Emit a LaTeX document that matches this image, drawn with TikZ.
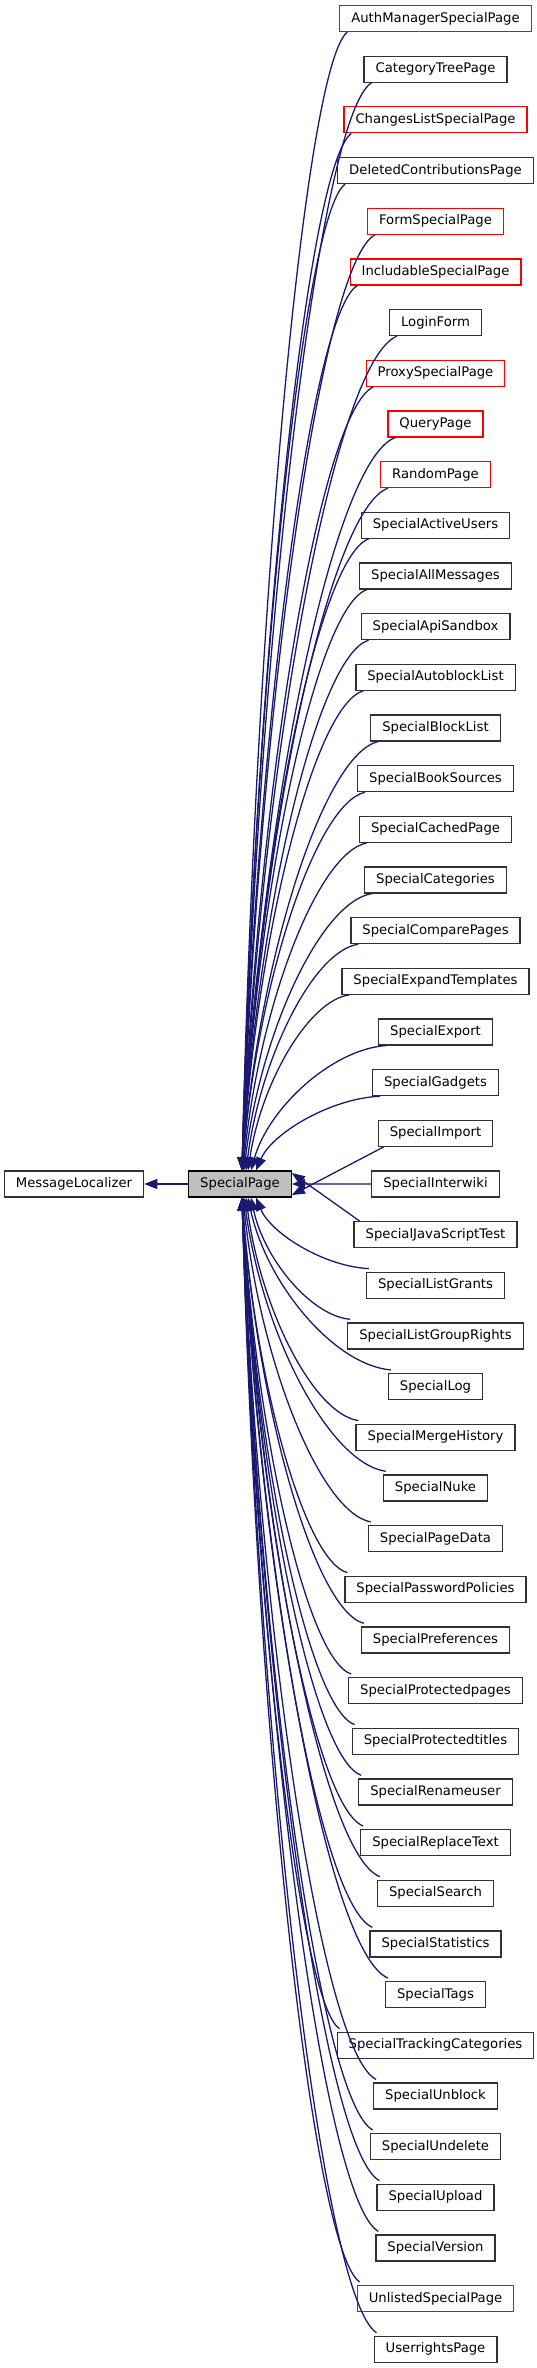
\documentclass[tikz,border=0pt]{standalone}
\usepackage{fontspec}
\setmainfont{DejaVu Sans}
\usetikzlibrary{arrows.meta,calc}
\definecolor{edgeblue}{RGB}{25,25,112}
\definecolor{boxgray}{RGB}{191,191,191}
\definecolor{bordergray}{RGB}{50,50,50}
\definecolor{linkred}{RGB}{255,0,0}
\begin{document}
\begin{tikzpicture}[x=1pt,y=-1pt,
  cls/.style={draw=bordergray, line width=1.3pt, inner xsep=11.5pt, inner ysep=0pt,
    minimum height=26pt, font=\fontsize{13.2}{15}\selectfont, text=black},
  redcls/.style={cls, draw=linkred},
  edge/.style={draw=edgeblue, line width=1.3pt, -{Triangle[length=13pt,width=10pt]}}]
\useasboundingbox (0,0) rectangle (537,2368);
\node[cls, fill=boxgray, draw=black] (sp) at (240,1184) {SpecialPage};
\node[cls] (ml) at (74,1184) {MessageLocalizer};
\draw[edge] (sp) -- (ml);
\foreach \i/\nm/\st in {
 0/AuthManagerSpecialPage/redcls, 1/CategoryTreePage/cls, 2/ChangesListSpecialPage/redcls,
 3/DeletedContributionsPage/cls, 4/FormSpecialPage/redcls, 5/IncludableSpecialPage/redcls,
 6/LoginForm/cls, 7/ProxySpecialPage/redcls, 8/QueryPage/redcls, 9/RandomPage/redcls,
 10/SpecialActiveUsers/cls, 11/SpecialAllMessages/cls, 12/SpecialApiSandbox/cls,
 13/SpecialAutoblockList/cls, 14/SpecialBlockList/cls, 15/SpecialBookSources/cls,
 16/SpecialCachedPage/cls, 17/SpecialCategories/cls, 18/SpecialComparePages/cls,
 19/SpecialExpandTemplates/cls, 20/SpecialExport/cls, 21/SpecialGadgets/cls,
 22/SpecialImport/cls, 23/SpecialInterwiki/cls, 24/SpecialJavaScriptTest/cls,
 25/SpecialListGrants/cls, 26/SpecialListGroupRights/cls, 27/SpecialLog/cls,
 28/SpecialMergeHistory/cls, 29/SpecialNuke/cls, 30/SpecialPageData/cls,
 31/SpecialPasswordPolicies/cls, 32/SpecialPreferences/cls, 33/SpecialProtectedpages/cls,
 34/SpecialProtectedtitles/cls, 35/SpecialRenameuser/cls, 36/SpecialReplaceText/cls,
 37/SpecialSearch/cls, 38/SpecialStatistics/cls, 39/SpecialTags/cls,
 40/SpecialTrackingCategories/cls, 41/SpecialUnblock/cls, 42/SpecialUndelete/cls,
 43/SpecialUpload/cls, 44/SpecialVersion/cls, 45/UnlistedSpecialPage/redcls,
 46/UserrightsPage/cls} {
  \node[\st] (c\i) at (435.5, {18.5+50.67*\i}) {\nm};
}
% edges from children above
\foreach \i/\dx in {0/2,1/2,2/2,3/2,4/2,5/2,6/2,7/2,8/2,9/2,10/2,11/2,12/2,13/2,14/2,15/2,
  16/3,17/4,18/6,19/8,20/11,21/16} {
  \draw[edge] let \p1=([xshift=8pt]c\i.south west), \p2=([xshift=\dx pt]sp.north) in
    (\p1) .. controls ({\x1-0.4*(\x1-\x2)},{\y1+0.03*(\y2-\y1)})
      and ({\x2+0.13*(\x1-\x2)},{\y2-0.5*(\y2-\y1)}) .. (\p2);
}
% edges from children below
\foreach \i/\dx in {25/16,26/11,27/8,28/6,29/4,30/3,31/2,32/2,33/2,34/2,35/2,36/2,37/2,38/2,
  39/2,40/2,41/2,42/2,43/2,44/2,45/2,46/2} {
  \draw[edge] let \p1=([xshift=3pt,yshift=3pt]c\i.north west), \p2=([xshift=\dx pt]sp.south) in
    (\p1) .. controls ({\x1-0.4*(\x1-\x2)},{\y1+0.03*(\y2-\y1)})
      and ({\x2+0.13*(\x1-\x2)},{\y2-0.5*(\y2-\y1)}) .. (\p2);
}
% nearly horizontal edges
\draw[edge] ([xshift=6pt]c22.south west) -- ([yshift=-11pt]sp.east);
\draw[edge] (c23.west) -- (sp.east);
\draw[edge] ([xshift=6pt]c24.north west) -- ([yshift=11pt]sp.east);
\end{tikzpicture}
\end{document}
